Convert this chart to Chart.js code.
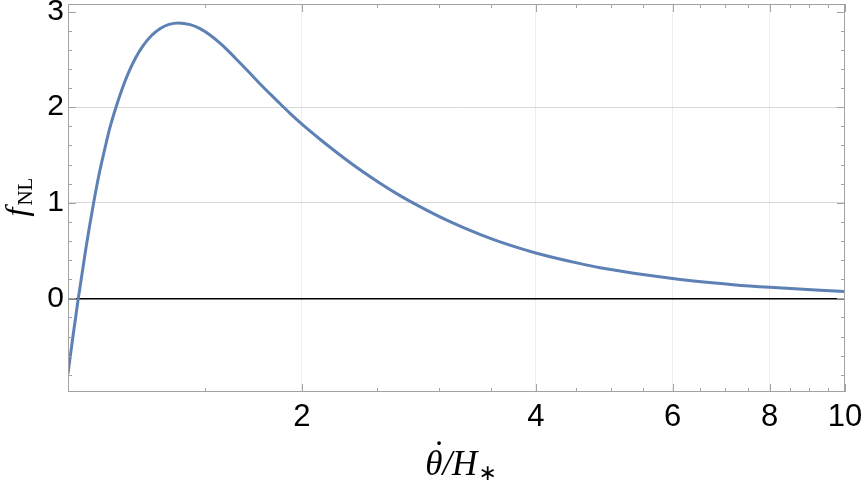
<!DOCTYPE html>
<html>
<head>
<meta charset="utf-8">
<script src="https://cdn.jsdelivr.net/npm/chart.js@4.4.1/dist/chart.umd.min.js"></script>
<style>
  html, body { margin: 0; padding: 0; background: #fff; }
  #wrap { width: 863px; height: 484px; }
</style>
</head>
<body>
<div id="wrap"><canvas id="fnl-chart"></canvas></div>
<script>
// theta-dot / H_* values and f_NL
var thetaDot = [1.000, 1.014, 1.031, 1.055, 1.078, 1.096, 1.116, 1.132, 1.152, 1.174, 1.196,
  1.223, 1.250, 1.281, 1.313, 1.349, 1.387, 1.436, 1.479, 1.523, 1.569, 1.616, 1.664, 1.715,
  1.766, 1.820, 1.875, 1.931, 2.000, 2.110, 2.306, 2.521, 2.675, 2.810, 3.072, 3.389, 3.598,
  4.000, 4.563, 4.838, 6.000, 7.180, 8.000, 10.00];
var fnl = [-0.786, -0.418, 0.000, 0.535, 0.983, 1.290, 1.575, 1.783, 1.992, 2.191, 2.359,
  2.522, 2.647, 2.750, 2.822, 2.867, 2.882, 2.864, 2.822, 2.756, 2.670, 2.571, 2.465, 2.356,
  2.246, 2.139, 2.036, 1.935, 1.822, 1.665, 1.422, 1.205, 1.075, 0.978, 0.818, 0.669, 0.591,
  0.475, 0.363, 0.321, 0.207, 0.143, 0.115, 0.072];

var xTickLabels = [2, 4, 6, 8, 10];
var xMinorTicks = [1.5, 2.5, 3, 3.5, 4.5, 5, 5.5, 6.5, 7, 7.5, 8.5, 9, 9.5];
var yTickLabels = [0, 1, 2, 3];
var yMinorTicks = [-0.8, -0.6, -0.4, -0.2, 0.2, 0.4, 0.6, 0.8, 1.2, 1.4, 1.6, 1.8, 2.2, 2.4, 2.6, 2.8];

var points = thetaDot.map(function (x, i) {
  return { x: x, y: fnl[i] };
});

// frame, inward ticks and the two axis titles
var framePlugin = {
  id: "framePlugin",
  afterDraw: function (chart) {
    var ctx = chart.ctx;
    var a = chart.chartArea;
    var xs = chart.scales.x;
    var ys = chart.scales.y;
    ctx.save();
    ctx.strokeStyle = "#a3a3a3";
    ctx.lineWidth = 1;
    ctx.strokeRect(Math.round(a.left) + 0.5, Math.round(a.top) + 0.5,
      Math.round(a.right - a.left) - 1, Math.round(a.bottom - a.top) - 1);

    ctx.beginPath();
    function xTick(v, len) {
      var px = Math.round(xs.getPixelForValue(v)) + 0.5;
      ctx.moveTo(px, a.bottom); ctx.lineTo(px, a.bottom - len);
      ctx.moveTo(px, a.top); ctx.lineTo(px, a.top + len);
    }
    function yTick(v, len) {
      var py = Math.round(ys.getPixelForValue(v)) + 0.5;
      ctx.moveTo(a.left, py); ctx.lineTo(a.left + len, py);
      ctx.moveTo(a.right, py); ctx.lineTo(a.right - len, py);
    }
    xTickLabels.forEach(function (v) { xTick(v, 8); });
    xMinorTicks.forEach(function (v) { xTick(v, 4); });
    yTickLabels.forEach(function (v) { yTick(v, 8); });
    yMinorTicks.forEach(function (v) { yTick(v, 4); });
    ctx.stroke();

    // x title: theta-dot / H_*
    ctx.fillStyle = "#000";
    ctx.textBaseline = "alphabetic";
    ctx.textAlign = "left";
    var bigFont = "italic 35px 'Liberation Serif'";
    var subFont = "22px 'DejaVu Sans'";
    ctx.font = bigFont;
    var wTheta = ctx.measureText("\u03B8").width;
    var w1 = ctx.measureText("\u03B8/H").width;
    ctx.font = subFont;
    var w2 = ctx.measureText("\u2217").width;
    var cx = (a.left + a.right) / 2 + 4;
    var x0 = cx - (w1 + w2) / 2;
    var base = 475;
    ctx.font = bigFont;
    ctx.fillText("\u03B8/H", x0, base);
    ctx.textAlign = "center";
    ctx.fillText("\u02D9", x0 + wTheta / 2 + 3, base - 10);
    ctx.textAlign = "left";
    ctx.font = subFont;
    ctx.fillText("\u2217", x0 + w1 + 1, base + 5);

    // y title: f_NL
    ctx.translate(27, (a.top + a.bottom) / 2);
    ctx.rotate(-Math.PI / 2);
    ctx.font = "italic 32px 'Liberation Serif'";
    var f1 = ctx.measureText("f").width;
    ctx.font = "21px 'Liberation Serif'";
    var f2 = ctx.measureText("NL").width;
    var s0 = -(f1 + f2) / 2;
    ctx.font = "italic 32px 'Liberation Serif'";
    ctx.fillText("f", s0, 0);
    ctx.font = "21px 'Liberation Serif'";
    ctx.fillText("NL", s0 + f1 + 2, 5);
    ctx.restore();
  }
};

var fnlChart = new Chart(document.getElementById("fnl-chart"), {
  type: "line",
  data: {
    datasets: [
      {
        data: points,
        borderColor: "#5E81B5",
        borderWidth: 3,
        pointRadius: 0,
        fill: false,
        cubicInterpolationMode: "monotone",
      },
    ],
  },
  options: {
    responsive: true,
    maintainAspectRatio: false,
    animation: false,
    devicePixelRatio: 1,
    layout: { padding: { top: 4, right: 18, left: 0, bottom: 0 } },
    plugins: { legend: { display: false }, tooltip: { enabled: false } },
    scales: {
      x: {
        type: "logarithmic",
        min: 1,
        max: 10,
        afterBuildTicks: function (scale) {
          scale.ticks = xTickLabels.map(function (v) { return { value: v }; });
        },
        afterFit: function (scale) {
          scale.height = 92;
          scale.paddingLeft = 0;
          scale.paddingRight = 0;
        },
        border: { display: false },
        grid: {
          drawTicks: false,
          color: function (c) {
            return c.tick && c.tick.value < 10 ? "#eeeeee" : "rgba(0,0,0,0)";
          },
        },
        ticks: {
          autoSkip: false,
          maxRotation: 0,
          padding: 7,
          color: "#000",
          font: { family: "'Liberation Sans'", size: 31 },
          callback: function (v) { return String(v); },
        },
      },
      y: {
        type: "linear",
        min: -0.98,
        max: 3.08,
        afterBuildTicks: function (scale) {
          scale.ticks = yTickLabels.map(function (v) { return { value: v }; });
        },
        afterFit: function (scale) {
          scale.width = 68;
          scale.paddingTop = 0;
          scale.paddingBottom = 0;
        },
        border: { display: false },
        grid: {
          drawTicks: false,
          color: function (c) {
            if (!c.tick) return "rgba(0,0,0,0)";
            if (c.tick.value === 0) return "#000";
            if (c.tick.value === 3) return "rgba(0,0,0,0)";
            return "#d8d8d8";
          },
          lineWidth: function (c) {
            return c.tick && c.tick.value === 0 ? 1.6 : 1;
          },
        },
        ticks: {
          padding: 4,
          color: "#000",
          font: { family: "'Liberation Sans'", size: 30 },
          callback: function (v) { return String(v); },
        },
      },
    },
  },
  plugins: [framePlugin],
});
</script>
</body>
</html>
